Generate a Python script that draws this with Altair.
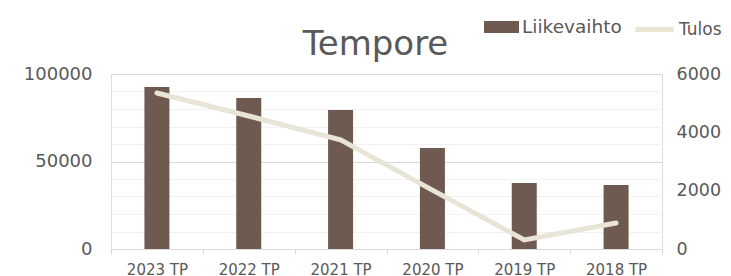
import altair as alt
import pandas as pd

categories = ["2023 TP", "2022 TP", "2021 TP", "2020 TP", "2019 TP", "2018 TP"]
liikevaihto = [92600, 86300, 79400, 57700, 37700, 36600]
tulos = [5350, 4560, 3740, 2020, 310, 890]

df = pd.DataFrame({
    "Vuosi": categories,
    "Liikevaihto": liikevaihto,
    "Tulos": tulos,
    "s1": ["Liikevaihto"] * len(categories),
    "s2": ["Tulos"] * len(categories),
})

FONT = "DejaVu Sans"
TXT = "#595959"
BAR = "#6E5A51"
LINE = "#E8E5D6"

x = alt.X("Vuosi:N", sort=categories, title=None,
          scale=alt.Scale(paddingInner=0, paddingOuter=0),
          axis=alt.Axis(labelAngle=0, tickBand="extent", tickSize=5, tickColor="#D9D9D9",
                        domainColor="#D9D9D9", labelPadding=8, labelFontSize=15,
                        labelColor=TXT, labelFont=FONT, grid=False))

bars = alt.Chart(df).mark_bar(size=25).encode(
    x=x,
    y=alt.Y("Liikevaihto:Q", title=None,
            scale=alt.Scale(domain=[0, 100000], nice=False),
            axis=alt.Axis(values=list(range(0, 100001, 10000)), format="d",
                          labelExpr="datum.value % 50000 === 0 ? datum.label : ''",
                          domain=False, ticks=False, labelPadding=19, labelFontSize=18,
                          labelColor=TXT, labelFont=FONT,
                          gridColor={"condition": {"test": "datum.value % 50000 === 0", "value": "#D9D9D9"}, "value": "#F2F2F2"},
                          gridWidth=1)),
    fill=alt.Fill("s1:N", title=None,
                  scale=alt.Scale(domain=["Liikevaihto"], range=[BAR]),
                  legend=alt.Legend(orient="none", legendX=373, legendY=-64.5,
                                    symbolType="M-1,-0.343H1V0.343H-1Z", symbolSize=1225,
                                    symbolStrokeWidth=0, labelFontSize=18.5, labelColor=TXT,
                                    labelFont=FONT, labelOffset=3, padding=0)),
)

line = alt.Chart(df).mark_line(strokeWidth=5, strokeCap="round").encode(
    x=x,
    y=alt.Y("Tulos:Q", title=None,
            scale=alt.Scale(domain=[0, 6000], nice=False),
            axis=alt.Axis(orient="right", values=[0, 2000, 4000, 6000], format="d",
                          domain=False, ticks=False, grid=False, labelPadding=14,
                          labelFontSize=17.5, labelColor=TXT, labelFont=FONT)),
    stroke=alt.Stroke("s2:N", title=None,
                      scale=alt.Scale(domain=["Tulos"], range=[LINE]),
                      legend=alt.Legend(orient="none", legendX=522, legendY=-66,
                                        symbolType="M-1,0H1", symbolSize=1444,
                                        symbolStrokeWidth=5, labelFontSize=17, labelColor=TXT,
                                        labelFont=FONT, labelOffset=3, padding=0)),
)

chart = alt.layer(bars, line).resolve_scale(
    y="independent", fill="independent", stroke="independent"
).properties(
    width=551, height=175,
    title=alt.TitleParams("Tempore", fontSize=34, font=FONT, color=TXT, fontWeight="normal",
                          anchor="middle", dx=-11, offset=-81, baseline="alphabetic"),
    autosize=alt.AutoSizeParams(type="none"),
    padding={"left": 103, "top": 66, "right": 61, "bottom": 40},
).configure_view(stroke=None).configure(background="white")

chart.save("out.html", embed_options={"renderer": "svg", "actions": False})
